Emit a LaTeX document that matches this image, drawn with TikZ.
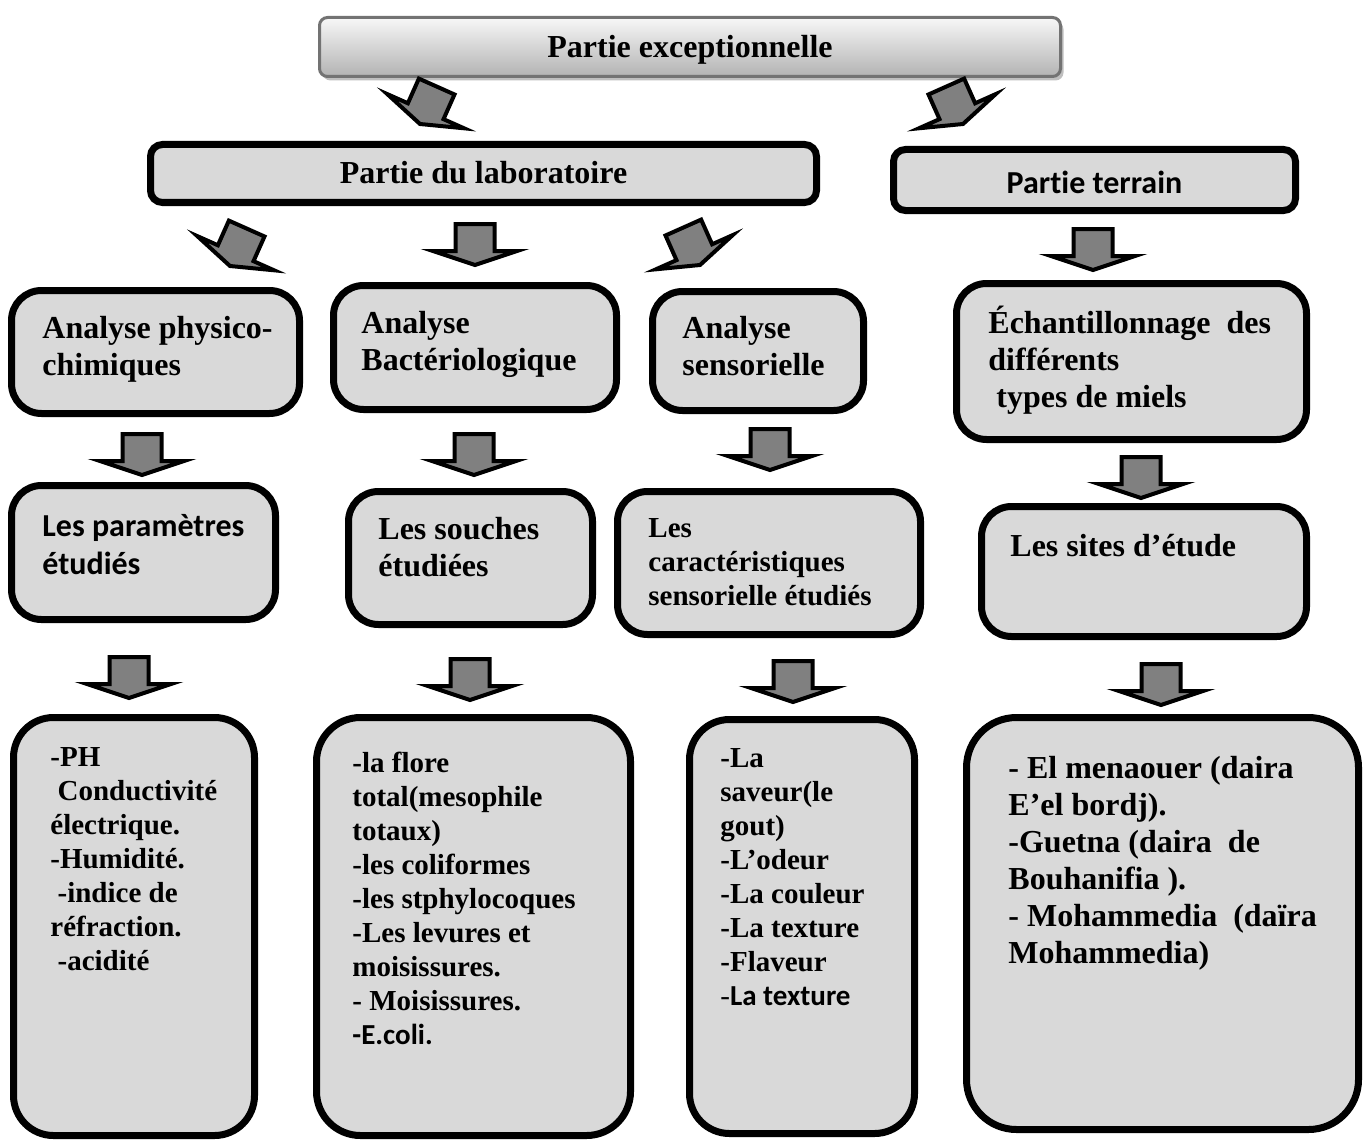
\documentclass[tikz,border=0pt]{standalone}
\usepackage{fontspec}
\setmainfont{Liberation Serif}
\newfontfamily\calib[Ligatures={TeX,NoCommon}]{Carlito}
\usetikzlibrary{shadows}

\definecolor{boxgray}{HTML}{D9D9D9}
\definecolor{arrowgray}{HTML}{808080}

\tikzstyle{box}=[draw=black, line width=3.5pt, fill=boxgray, rounded corners=6pt, inner sep=0pt]
\tikzstyle{big box}=[box, rounded corners=15pt]
\tikzstyle{list box}=[box, rounded corners=20pt]
\tikzstyle{head box}=[draw=black!55, line width=1.5pt, top color=black!3, bottom color=black!30, rounded corners=4pt, inner sep=0pt, drop shadow={shadow xshift=1.5pt, shadow yshift=-2pt, fill=black!25, opacity=1}]
\tikzstyle{title}=[font=\bfseries\fontsize{16}{19}\selectfont, text height=11pt, text depth=0.6pt]
\tikzstyle{txt}=[anchor=north west, inner sep=0pt, align=left, font=\bfseries\fontsize{16}{18.5}\selectfont]
\tikzstyle{small txt}=[txt, font=\bfseries\fontsize{14.5}{17}\selectfont]
\tikzstyle{block arrow}=[draw=black, line width=2pt, fill=arrowgray, line join=miter]

\begin{document}
\begin{tikzpicture}[x=0.5pt, y=-0.5pt]
	\useasboundingbox (0,0) rectangle (1368,1139);

	% Head of the plan
	\node[head box, title, minimum width=370.5pt, minimum height=29.5pt] (excep) at (690,47) {Partie exceptionnelle};
	\node[box, title, minimum width=333pt, minimum height=29pt] (labo) at (483.5,173.5) {Partie du laboratoire};
	\node[box, title, font=\calib\bfseries\fontsize{16}{19}\selectfont, text height=13pt, text depth=0pt,
		minimum width=201pt, minimum height=30.5pt] (terrain) at (1094.5,180) {Partie terrain};

	% Analyses and sampling
	\node[big box, minimum width=144pt, minimum height=61.5pt] (phys) at (155.5,352) {};
	\node[big box, minimum width=141.5pt, minimum height=62pt] (bact) at (475,347.5) {};
	\node[big box, minimum width=105.5pt, minimum height=59.5pt] (sens) at (758,351) {};
	\node[big box, minimum width=175pt, minimum height=78pt] (echant) at (1131.5,361.5) {};

	\node[txt] (phys text) at (42,312) {\strut Analyse physico-\\chimiques};
	\node[txt] (bact text) at (361,307) {\strut Analyse\\Bactériologique};
	\node[txt] (sens text) at (682,312) {\strut Analyse\\sensorielle};
	\node[txt] (echant text) at (988,306) {\strut Échantillonnage\ \ des\\différents\\~types de miels};

	% What is studied
	\node[big box, minimum width=132pt, minimum height=67pt] (param) at (143.5,552.5) {};
	\node[big box, minimum width=122pt, minimum height=66.5pt] (souches) at (470.5,558) {};
	\node[big box, minimum width=151.5pt, minimum height=71.5pt] (carac) at (769,563) {};
	\node[big box, minimum width=162.5pt, minimum height=65pt] (sites) at (1144,571.5) {};

	\node[txt, font=\calib\bfseries\fontsize{16}{19}\selectfont] (param text) at (42,509) {\strut Les paramètres\\étudiés};
	\node[txt] (souches text) at (378,513) {\strut Les souches\\étudiées};
	\node[small txt] (carac text) at (648,513) {\strut Les\\caractéristiques\\sensorielle étudiés};
	\node[txt] (sites text) at (1010,530) {\strut Les sites d’étude};

	% Lists
	\node[list box, minimum width=120.5pt, minimum height=209pt] (list phys) at (134,926.5) {};
	\node[list box, rounded corners=22pt, minimum width=157pt, minimum height=209pt] (list bact) at (473.5,926.5) {};
	\node[list box, minimum width=112.5pt, minimum height=207pt] (list sens) at (802,926.5) {};
	\node[list box, rounded corners=25pt, minimum width=196pt, minimum height=206pt] (list sites) at (1162.5,923.5) {};

	\node[small txt] (phys items) at (50,742) {\strut -PH\\~Conductivité\\électrique.\\-Humidité.\\~-indice de\\réfraction.\\~-acidité};
	\node[small txt] (bact items) at (352,748) {\strut -la flore\\total(mesophile\\totaux)\\-les coliformes\\-les stphylocoques\\-Les levures et\\moisissures.\\- Moisissures.\\{\calib -E.coli.}};
	\node[small txt] (sens items) at (720,743) {\strut -La\\saveur(le\\gout)\\-L’odeur\\-La couleur\\-La texture\\-Flaveur\\{\mdseries -}{\calib La texture}};
	\node[txt] (sites items) at (1008,752) {\strut - El menaouer (daira\\E’el bordj).\\-Guetna (daira\ \ de\\Bouhanifia ).\\- Mohammedia\ \ (daïra\\Mohammedia)};

	% Block arrows (tip x / tip y / tilt)
	\foreach \x/\y/\a in {420/124/-24, 963/124/24, 230/266/-24, 475/265/0, 700/265/24, 1093/270/0,
		142/475/0, 474/475/0, 770/470/0, 1141/498/0, 129/698/0, 470/700/0, 793/702/0, 1161/705/0}{
		\draw[block arrow, shift={(\x,\y)}, rotate=\a] (-19.5,-41) -- (19.5,-41) -- (19.5,-14) -- (42,-14)
			-- (0,0) -- (-42,-14) -- (-19.5,-14) -- cycle;
	}
\end{tikzpicture}
\end{document}
